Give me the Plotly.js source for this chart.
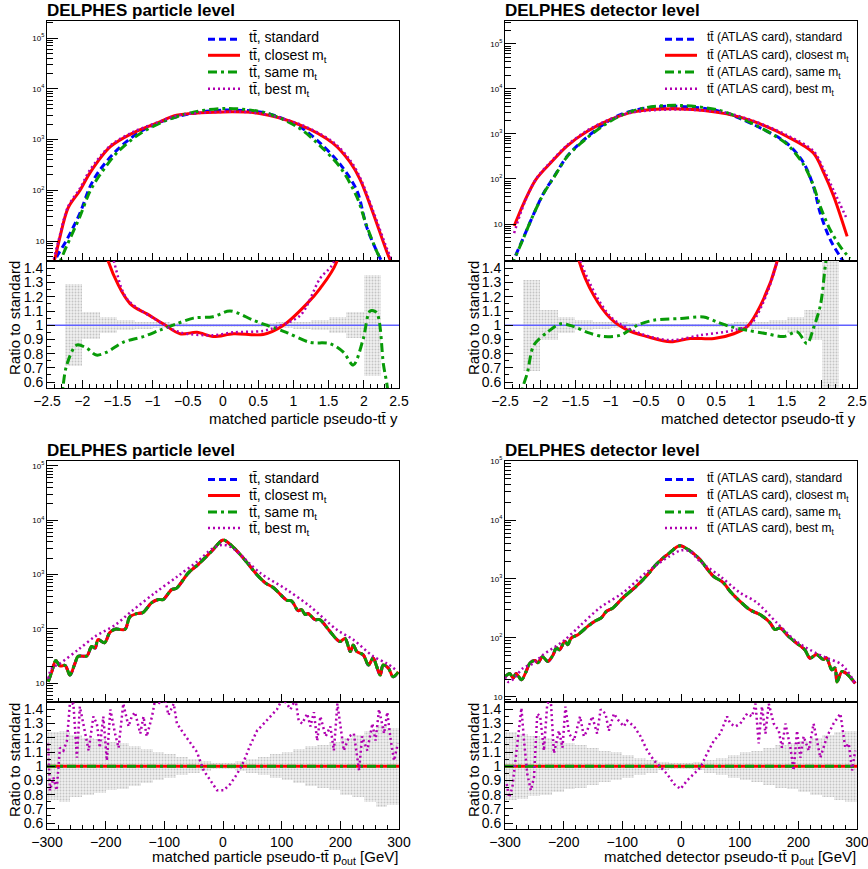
<!DOCTYPE html>
<html><head><meta charset="utf-8">
<script src="https://cdn.plot.ly/plotly-3.0.1.min.js"></script>
<style>html,body{margin:0;padding:0;background:#fff}#chart{width:868px;height:869px}</style>
</head><body><div id="chart"></div>
<script>
// ---------------- DATA ----------------
// Panel 1: particle-level pseudo-ttbar rapidity
const p1StdX  = [-2.42,-2.36,-2.22,-2.03,-1.89,-1.75,-1.5,-1.18,-0.8,-0.42,0.04,0.62,1.09,1.38,1.66,1.9,2.04,2.19,2.3];
const p1StdY  = [3,4.9,10.5,36,117,250,630,1420,2450,3300,3800,3300,1780,850,330,100,19,6,3];
const p1CloX  = [-2.45,-2.4,-2.33,-2.2,-2.03,-1.89,-1.6,-1.28,-0.94,-0.66,0,0.5,1.09,1.56,1.8,1.95,2.13,2.33,2.42];
const p1CloY  = [3,4,10,45,100,220,720,1340,2100,3000,3500,3300,1950,850,365,160,36,6,3];
const p1SameX = [-2.42,-2.36,-2.22,-2.03,-1.89,-1.75,-1.5,-1.18,-0.8,-0.42,0.04,0.62,1.09,1.38,1.66,1.9,2.04,2.19,2.33];
const p1SameY = [2.5,3,8,31,95,200,560,1300,2400,3450,4100,3300,1650,750,290,75,20,6,2.5];
const p1BestX = [-2.42,-2.33,-2.2,-2.03,-1.89,-1.6,-1.28,-0.94,-0.66,0,0.5,1.09,1.56,1.8,1.95,2.13,2.33,2.42];
const p1BestY = [3.5,11,48,110,250,760,1400,2150,2950,3500,3300,2000,900,400,175,40,7,3.5];

const p1RCloX  = [-1.8,-1.63,-1.32,-1.08,-0.85,-0.61,-0.37,-0.14,0.15,0.57,0.86,1.19,1.38,1.61,1.8];
const p1RCloY  = [1.9,1.45,1.152,1.08,1.01,0.94,0.95,0.92,0.94,0.935,1.0,1.15,1.26,1.44,1.9];
const p1RBestX = [-1.75,-1.55,-1.37,-0.99,-0.61,-0.14,0.15,0.57,0.77,1.1,1.38,1.57,1.75];
const p1RBestY = [1.9,1.45,1.19,1.05,0.95,0.93,0.95,0.96,0.99,1.07,1.33,1.44,1.9];
const p1RSameX = [-2.3,-2.27,-2.22,-2.08,-1.94,-1.8,-1.65,-1.42,-1.13,-0.9,-0.66,-0.42,-0.14,0.1,0.43,0.62,0.9,1.23,1.52,1.71,1.85,1.99,2.09,2.18,2.28,2.33,2.36];
const p1RSameY = [0.45,0.58,0.72,0.86,0.84,0.79,0.81,0.88,0.92,0.965,1.01,1.05,1.06,1.1,1.035,1.0,0.95,0.88,0.87,0.81,0.72,0.9,1.1,1.09,0.72,0.58,0.45];

// Panel 2: detector-level pseudo-ttbar rapidity
const p2StdX  = [-2.42,-2.37,-2.25,-2.09,-1.95,-1.8,-1.62,-1.43,-1.14,-0.86,-0.48,0.0,0.56,1.03,1.5,1.74,1.88,1.98,2.12,2.26,2.35];
const p2StdY  = [1.2,1.7,4.5,17,49,115,316,630,1480,2700,3800,4100,3170,1620,630,230,69,17,4.5,1.9,1.2];
const p2CloX  = [-2.37,-2.23,-2.06,-1.85,-1.62,-1.33,-1.0,-0.67,0.0,0.65,1.03,1.5,1.88,2.03,2.17,2.36];
const p2CloY  = [9,30,98,230,540,1150,2100,3100,3600,2800,1900,890,380,135,41,5.3];
const p2SameX = [-2.42,-2.37,-2.25,-2.09,-1.95,-1.8,-1.62,-1.43,-1.14,-0.86,-0.48,0.0,0.56,1.03,1.5,1.74,1.88,1.98,2.12,2.26,2.4];
const p2SameY = [1.1,1.6,4.4,17,48,112,310,610,1400,2550,3900,4300,3300,1650,600,210,72,24,7.4,3.2,1.7];
const p2BestX = [-2.37,-2.23,-2.06,-1.85,-1.62,-1.33,-1.0,-0.67,0.0,0.65,1.03,1.5,1.88,2.03,2.17,2.36];
const p2BestY = [6.3,28,100,240,560,1200,2150,3050,3500,2900,1950,950,420,160,55,12.6];

const p2RCloX  = [-1.6,-1.45,-1.24,-1.0,-0.76,-0.48,-0.15,0.13,0.47,0.75,0.94,1.13,1.36,1.5];
const p2RCloY  = [1.9,1.456,1.21,1.047,0.965,0.92,0.883,0.906,0.906,0.94,0.99,1.14,1.44,1.9];
const p2RBestX = [-1.6,-1.43,-1.0,-0.57,-0.15,0.28,0.75,0.99,1.15,1.36,1.5];
const p2RBestY = [1.9,1.456,1.06,0.94,0.895,0.93,0.965,1.01,1.14,1.44,1.9];
const p2RSameX = [-2.28,-2.25,-2.18,-2.09,-1.9,-1.71,-1.52,-1.33,-1.1,-0.86,-0.62,-0.39,0.0,0.32,0.51,0.7,0.94,1.22,1.46,1.65,1.79,1.88,1.98,2.05,2.1];
const p2RSameY = [0.45,0.555,0.67,0.86,0.95,1.01,0.99,0.95,0.92,0.93,1.0,1.035,1.047,1.058,1.023,0.99,0.965,0.94,0.92,0.953,0.87,0.977,1.14,1.42,1.6];

// rapidity bins for the statistical band
const yBins  = [-2.125,-1.875,-1.625,-1.375,-1.125,-0.875,-0.625,-0.375,-0.125,0.125,0.375,0.625,0.875,1.125,1.375,1.625,1.875,2.125];
const p1Band = [0.29,0.094,0.055,0.035,0.025,0.02,0.015,0.012,0.01,0.01,0.012,0.015,0.02,0.025,0.035,0.055,0.09,0.357];
const p2Band = [0.32,0.107,0.055,0.035,0.025,0.02,0.015,0.012,0.01,0.01,0.012,0.015,0.02,0.025,0.035,0.055,0.105,0.6];

// Panel 3: particle-level p_out
const p3StdX = [-298,-292,-285,-278,-269,-261,-252,-247,-232,-224,-218,-213,-202,-193,-184,-167,-159,-147,-136,-122,-110,-102,-87.5,-79,-59,-42,-19,0,12,29,46,55,72,86,109,117,128,134,140,145,157,165,180,199,208,217,222,228,239,248,256,262,268,273,282,290,299];
const p3StdY = [10.6,16,26,20.6,21,14,23.5,31,31.6,47,44,63,55,85,98,98,165,190,200,300,345,345,525,560,1070,1540,2700,4300,3600,2350,1420,1070,700,570,334,325,215,225,183,190,147,147,96,58,66,38,50,38,33,21.5,29,20,14,21.5,18.7,13,16];
const p3BestX = [-298,-292,-278,-247,-218,-184,-156,-116,-77,-42.5,-20,-8,0,10,23,63,108.6,148,194,222,256,279,296];
const p3BestY = [12,18.7,23,41,72,117,209,457,930,1780,2900,3400,3500,3350,2700,1070,525,260,96,63,31,23,17];
const p3RBestX = [-298,-295,-289,-283.5,-278,-272,-266,-261,-255,-249,-244,-235,-229,-221,-215,-210,-204,-198,-192,-184,-178,-170,-161,-155.5,-150,-141,-135.5,-130,-121,-115.6,-107,-98.5,-93,-84,-78.6,-67,-56,-44.4,-33,-21.6,-10,1,12.5,24,35,46.7,58,69.5,81,92,100.8,109,115,123.6,129,135,143.5,149,155,160.5,166,175,183,189,195,200,206,215,223,232,237,246,254.6,260,266,274.6,280,286,291.6,298];
const p3RBestY = [1.16,0.83,0.92,0.83,1.13,1.11,1.18,1.44,1.44,1.06,1.42,1.23,1.11,1.35,1.3,1.13,1.35,1.04,1.4,1.23,1.13,1.44,1.28,1.35,1.38,1.23,1.35,1.21,1.35,1.47,1.44,1.47,1.36,1.44,1.3,1.23,1.17,1.1,0.97,0.9,0.83,0.83,0.875,0.945,1.03,1.15,1.25,1.3,1.35,1.4,1.47,1.44,1.4,1.47,1.32,1.3,1.37,1.28,1.38,1.18,1.35,1.21,1.28,1.11,1.44,1.3,1.11,1.21,1.23,0.97,1.21,1.11,1.3,1.18,1.4,1.23,1.38,1.18,1.04,1.16];

// Panel 4: detector-level p_out
const p4StdX = [-300,-292,-286,-281,-272,-264,-258,-249,-244,-236,-227,-218,-212.5,-207,-198,-193,-187,-175.6,-158.5,-147,-136,-127,-116,-99,-76,-59,-42,-19,-2,15,32,55,72,83.5,97.6,117.6,134.7,151.7,160,169,183,197,211,220,231,242.6,248,257,262.5,266,274,282,297];
const p4StdY = [22,25,21,25,19.5,27,37,41.5,38,48,40,52,68,63,88,77,100,114,159,192,219,284,323,480,755,1120,1780,2800,3650,3000,2150,1120,870,620,445,300,250,182,139,148,107,82,63,45.5,52.5,43,46,29,31,18,27,25,17];
const p4BestX = [-300,-294,-286,-269,-252,-235,-201,-173,-138.6,-99,-59,-19,0,15,32,66.5,100.6,129,163,197,231,248,271,282,297];
const p4BestY = [22,18,20,31,37,52,88,158,323,585,1290,2450,3050,2950,2000,1120,585,400,182,87,55,46,37,29,17];
const p4RBestX = [-297,-293,-287.5,-282,-276,-272,-267.6,-262,-256,-250.6,-245,-240,-233.6,-228,-222,-216.6,-208,-202,-197,-191,-182.5,-172,-165.6,-160,-151.3,-143,-137,-128.6,-123,-114.4,-106,-97.3,-91.7,-80,-69,-57.6,-46,-35,-23.6,-12,-0.8,10.5,22,33,44.5,56,67,78.6,84,92.8,101,112.7,121,127,132.5,138,144,149.6,158,166.6,172,178,186.5,192,197.8,203.5,209,217.7,226,237.5,249,260,271.7,280,286,291.6,297];
const p4RBestY = [0.875,0.78,0.85,1.06,1.3,1.41,1.18,0.945,0.83,0.92,1.37,1.35,1.11,1.44,1.47,1.09,1.25,1.13,1.42,1.23,1.18,1.35,1.21,1.25,1.35,1.23,1.4,1.37,1.25,1.37,1.32,1.28,1.32,1.28,1.21,1.11,1.04,0.99,0.945,0.875,0.84,0.9,0.945,0.99,1.09,1.18,1.23,1.35,1.3,1.28,1.3,1.37,1.35,1.44,1.16,1.42,1.23,1.44,1.3,1.25,1.13,1.3,1.13,0.97,1.25,1.06,1.21,1.11,1.3,1.06,1.21,1.3,1.37,1.13,1.16,0.97,1.11];

// ratios of identical selections (closest / same vs standard) in p_out
const poutEdges = [-300,300];
const poutUnity = [1,1];
const yEdges = [-2.5,2.5];
const yUnity = [1,1];

// p_out bins for the statistical band
const pBins  = [-290,-270,-250,-230,-210,-190,-170,-150,-130,-110,-90,-70,-50,-30,-10,10,30,50,70,90,110,130,150,170,190,210,230,250,270,290];
const p3Band = [0.24,0.25,0.22,0.2,0.19,0.17,0.16,0.14,0.12,0.1,0.085,0.065,0.05,0.035,0.02,0.02,0.035,0.05,0.065,0.085,0.1,0.12,0.14,0.15,0.17,0.2,0.22,0.25,0.29,0.27];
const p4Band = [0.24,0.23,0.21,0.2,0.18,0.16,0.15,0.13,0.11,0.1,0.08,0.06,0.045,0.03,0.02,0.02,0.03,0.045,0.06,0.08,0.1,0.11,0.13,0.15,0.16,0.18,0.2,0.22,0.24,0.25];

// Text
const titlesTop = ['DELPHES particle level','DELPHES detector level'];
const legLeft  = ['tt\u0304, standard','tt\u0304, closest m<sub>t</sub>','tt\u0304, same m<sub>t</sub>','tt\u0304, best m<sub>t</sub>'];
const legRight = ['tt\u0304 (ATLAS card), standard','tt\u0304 (ATLAS card), closest m<sub>t</sub>','tt\u0304 (ATLAS card), same m<sub>t</sub>','tt\u0304 (ATLAS card), best m<sub>t</sub>'];
const xTitles = ['matched particle pseudo-tt\u0304 y','matched detector pseudo-tt\u0304 y',
                 'matched particle pseudo-tt\u0304 p<sub>out</sub> [GeV]','matched detector pseudo-tt\u0304 p<sub>out</sub> [GeV]'];
const ratioTitle = 'Ratio to standard';

// ---------------- STYLE ----------------
const FONT = 'Liberation Sans, Arial, Helvetica, sans-serif';
const W = 868, H = 869;
const px = v => v / W, py = v => 1 - v / H;
const STY = {
  std:  {color:'#0000ff', width:3, dash:'7px,4px'},
  clo:  {color:'#ff0000', width:3, dash:'solid'},
  same: {color:'#089b08', width:3, dash:'9px,4px,3px,4px'},
  best: {color:'#b000b0', width:2.5, dash:'2px,3px'}
};

function line(xa, ya, x, y, sty, shape) {
  return {type:'scatter', mode:'lines', x:x, y:y, xaxis:xa, yaxis:ya, hoverinfo:'skip', showlegend:false,
          line:{color:sty.color, width:sty.width, dash:sty.dash, shape:shape||'spline', smoothing:0.9}};
}
function band(xa, ya, centers, half, width) {
  return {type:'bar', x:centers, y:half.map(h=>2*h), base:half.map(h=>1-h), width:width,
          xaxis:xa, yaxis:ya, hoverinfo:'skip', showlegend:false,
          marker:{color:'#ececec', line:{width:0},
                  pattern:{shape:'.', fgcolor:'#c4c4c4', bgcolor:'#f0f0f0', size:3, solidity:0.3}}};
}
function unityLine(xa, ya, x, y) {
  return {type:'scatter', mode:'lines', x:x, y:y, xaxis:xa, yaxis:ya, hoverinfo:'skip', showlegend:false,
          line:{color:'#6060ff', width:1.5}};
}

const traces = [];
// Panel 1
traces.push(line('x','y',p1StdX,p1StdY,STY.std), line('x','y',p1CloX,p1CloY,STY.clo),
            line('x','y',p1SameX,p1SameY,STY.same), line('x','y',p1BestX,p1BestY,STY.best));
traces.push(band('x2','y2',yBins,p1Band,0.25), unityLine('x2','y2',yEdges,yUnity),
            line('x2','y2',p1RCloX,p1RCloY,STY.clo), line('x2','y2',p1RSameX,p1RSameY,STY.same),
            line('x2','y2',p1RBestX,p1RBestY,STY.best));
// Panel 2
traces.push(line('x3','y3',p2StdX,p2StdY,STY.std), line('x3','y3',p2CloX,p2CloY,STY.clo),
            line('x3','y3',p2SameX,p2SameY,STY.same), line('x3','y3',p2BestX,p2BestY,STY.best));
traces.push(band('x4','y4',yBins,p2Band,0.25), unityLine('x4','y4',yEdges,yUnity),
            line('x4','y4',p2RCloX,p2RCloY,STY.clo), line('x4','y4',p2RSameX,p2RSameY,STY.same),
            line('x4','y4',p2RBestX,p2RBestY,STY.best));
// Panel 3 (closest and same coincide with standard)
traces.push(line('x5','y5',p3StdX,p3StdY,STY.std), line('x5','y5',p3StdX,p3StdY,STY.clo),
            line('x5','y5',p3StdX,p3StdY,STY.same), line('x5','y5',p3BestX,p3BestY,STY.best));
traces.push(band('x6','y6',pBins,p3Band,20), unityLine('x6','y6',poutEdges,poutUnity),
            line('x6','y6',poutEdges,poutUnity,STY.clo,'linear'), line('x6','y6',poutEdges,poutUnity,STY.same,'linear'),
            line('x6','y6',p3RBestX,p3RBestY,STY.best,'linear'));
// Panel 4
traces.push(line('x7','y7',p4StdX,p4StdY,STY.std), line('x7','y7',p4StdX,p4StdY,STY.clo),
            line('x7','y7',p4StdX,p4StdY,STY.same), line('x7','y7',p4BestX,p4BestY,STY.best));
traces.push(band('x8','y8',pBins,p4Band,20), unityLine('x8','y8',poutEdges,poutUnity),
            line('x8','y8',poutEdges,poutUnity,STY.clo,'linear'), line('x8','y8',poutEdges,poutUnity,STY.same,'linear'),
            line('x8','y8',p4RBestX,p4RBestY,STY.best,'linear'));

// ---------------- AXES ----------------
const XL = [px(47), px(399)], XR = [px(505), px(857)];
const YTM = [py(261), py(21)], YTR = [py(388), py(261)];
const YBM = [py(702), py(461)], YBR = [py(829), py(702)];
const frame = {showline:true, linecolor:'#000', linewidth:1, mirror:true, showgrid:false, zeroline:false,
               ticks:'inside', tickcolor:'#000', ticklabeloverflow:'allow'};

function xAxis(domain, anchor, range, dtick, mdtick, labels) {
  return Object.assign({}, frame, {domain:domain, anchor:anchor, range:range, dtick:dtick, tick0:0,
    ticklen:8, showticklabels:labels, tickfont:{family:FONT, size:14, color:'#000'},
    minor:{ticks:'inside', ticklen:4, dtick:mdtick, tickcolor:'#000', showgrid:false}});
}
function yLog(domain, anchor, range) {
  return Object.assign({}, frame, {domain:domain, anchor:anchor, type:'log', range:range,
    tickvals:[10,100,1000,10000,100000], ticktext:['10','10<sup>2</sup>','10<sup>3</sup>','10<sup>4</sup>','10<sup>5</sup>'],
    ticklen:11, tickfont:{family:FONT, size:8, color:'#000'},
    minor:{ticks:'inside', ticklen:6, dtick:'D1', tickcolor:'#000', showgrid:false}});
}
function yRatio(domain, anchor) {
  return Object.assign({}, frame, {domain:domain, anchor:anchor, range:[0.558,1.452], dtick:0.1, tick0:0,
    ticklen:8, tickfont:{family:FONT, size:14, color:'#000'},
    minor:{ticks:'inside', ticklen:4, dtick:0.05, tickcolor:'#000', showgrid:false}});
}

const layout = {
  width:W, height:H, margin:{l:0,r:0,t:0,b:0}, paper_bgcolor:'#fff', plot_bgcolor:'#fff',
  showlegend:false, barmode:'overlay', bargap:0,
  xaxis:  xAxis(XL,'y', [-2.5,2.5],0.5,0.1,false),
  xaxis2: xAxis(XL,'y2',[-2.5,2.5],0.5,0.1,true),
  xaxis3: xAxis(XR,'y3',[-2.5,2.5],0.5,0.1,false),
  xaxis4: xAxis(XR,'y4',[-2.5,2.5],0.5,0.1,true),
  xaxis5: xAxis(XL,'y5',[-300,300],100,20,false),
  xaxis6: xAxis(XL,'y6',[-300,300],100,20,true),
  xaxis7: xAxis(XR,'y7',[-300,300],100,20,false),
  xaxis8: xAxis(XR,'y8',[-300,300],100,20,true),
  yaxis:  yLog(YTM,'x', [0.606,5.335]),
  yaxis2: yRatio(YTR,'x2'),
  yaxis3: yLog(YTM,'x3',[0.178,5.51]),
  yaxis4: yRatio(YTR,'x4'),
  yaxis5: yLog(YBM,'x5',[0.65,5.09]),
  yaxis6: yRatio(YBR,'x6'),
  yaxis7: yLog(YBM,'x7',[0.915,5.0]),
  yaxis8: yRatio(YBR,'x8'),
  annotations:[], shapes:[]
};

// ---------------- TEXT ----------------
function ann(text, x, y, opts) {
  layout.annotations.push(Object.assign({text:text, xref:'paper', yref:'paper', x:px(x), y:py(y),
    showarrow:false, xanchor:'left', yanchor:'middle', font:{family:FONT, size:15, color:'#000'}}, opts||{}));
}
// titles
const TF = {family:FONT,size:17,color:'#000'};
ann('<b>'+titlesTop[0]+'</b>', 45, 10, {font:TF});
ann('<b>'+titlesTop[1]+'</b>', 503, 10, {font:TF});
ann('<b>'+titlesTop[0]+'</b>', 45, 450, {font:TF});
ann('<b>'+titlesTop[1]+'</b>', 503, 450, {font:TF});
// x titles
ann(xTitles[0], 400, 408, {xanchor:'right', yanchor:'top'});
ann(xTitles[1], 858, 408, {xanchor:'right', yanchor:'top'});
ann(xTitles[2], 400, 846, {xanchor:'right', yanchor:'top'});
ann(xTitles[3], 858, 846, {xanchor:'right', yanchor:'top'});
// ratio titles
[[14,318],[473,318],[14,760],[473,760]].forEach(p => ann(ratioTitle, p[0], p[1], {xanchor:'center', textangle:-90, borderpad:0}));

// legends
const styOrder = [STY.std, STY.clo, STY.same, STY.best];
function legend(labels, x0, x1, xt, rows, fsize) {
  labels.forEach((lab, i) => {
    const s = styOrder[i];
    layout.shapes.push({type:'line', xref:'paper', yref:'paper', x0:px(x0), x1:px(x1), y0:py(rows[i]+2), y1:py(rows[i]+2),
      line:{color:s.color, width:s.width, dash:s.dash}});
    ann(lab, xt, rows[i] + (i>0 ? 3 : 0), {font:{family:FONT, size:fsize, color:'#000'}});
  });
}
legend(legLeft, 208, 240, 247, [37.3,53.3,70,86.7], 14);
legend(legRight, 665, 697, 705, [37.3,53.3,70,86.7], 12);
legend(legLeft, 208, 240, 247, [477.5,493.5,510,526], 14);
legend(legRight, 665, 697, 705, [477.5,493.5,510,526], 12);

Plotly.newPlot('chart', traces, layout, {staticPlot:true, displayModeBar:false});
</script></body></html>
